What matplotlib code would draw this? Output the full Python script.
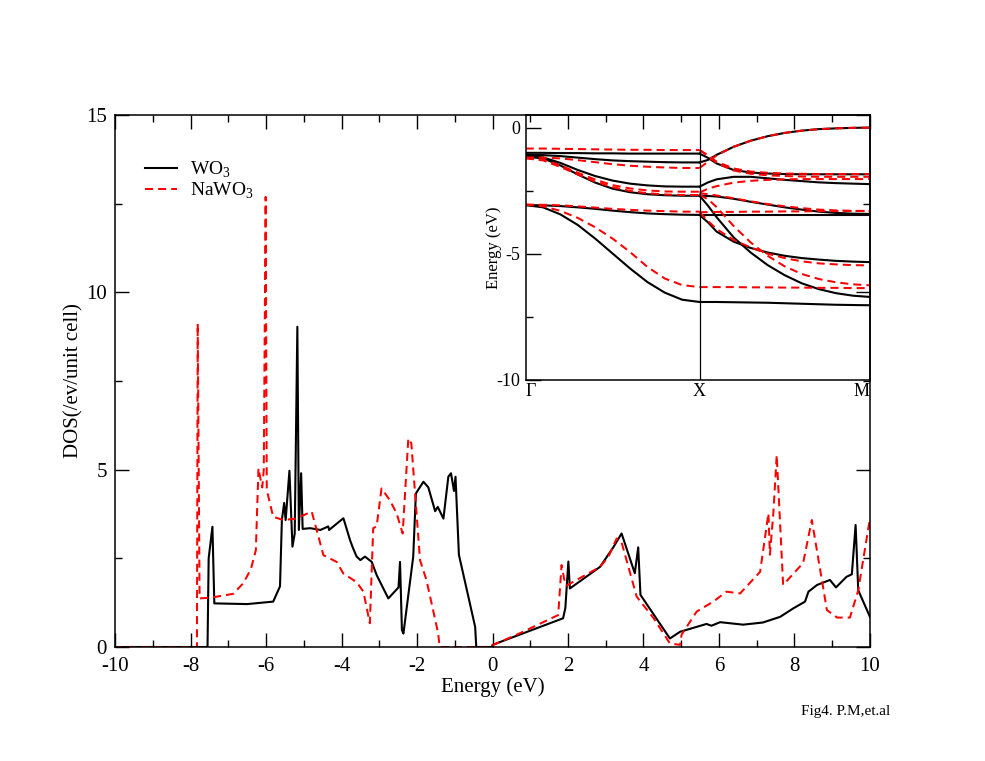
import numpy as np
import matplotlib
matplotlib.use("Agg")
import matplotlib.pyplot as plt
from matplotlib.ticker import MultipleLocator

plt.rcParams['font.family'] = ['Liberation Serif', 'DejaVu Serif']
plt.rcParams['mathtext.fontset'] = 'custom'
plt.rcParams['mathtext.rm'] = 'Liberation Serif'
plt.rcParams['axes.unicode_minus'] = False

# ---- DOS data ----
wo3_e = [-10, -7.55, -7.52, -7.42, -7.37, -6.5, -5.81, -5.63, -5.58, -5.52, -5.48,
         -5.38, -5.30, -5.24, -5.17, -5.13, -5.07, -5.03, -4.83, -4.56, -4.35, -4.33,
         -3.95, -3.77, -3.70, -3.60, -3.50, -3.38, -3.20, -3.07, -2.76, -2.49, -2.45,
         -2.40, -2.36, -2.10, -2.03, -1.83, -1.70, -1.52, -1.45, -1.30, -1.17, -1.10,
         -1.02, -0.98, -0.89, -0.46, -0.43, -0.02,
         0.0, 1.87, 1.93, 2.01, 2.05, 2.85, 3.20, 3.42, 3.77, 3.86, 3.92, 4.70, 4.97,
         5.67, 5.80, 6.03, 6.64, 7.16, 7.62, 7.97, 8.28, 8.37, 8.60, 8.94, 9.10, 9.38,
         9.52, 9.62, 9.69, 10.0]
wo3_dos = [0, 0, 2.5, 3.39, 1.23, 1.21, 1.28, 1.71, 3.58, 4.06, 3.58,
           4.97, 2.83, 3.2, 9.03, 3.3, 4.9, 3.33, 3.35, 3.3, 3.4, 3.3,
           3.63, 3.0, 2.8, 2.55, 2.45, 2.55, 2.4, 2.03, 1.37, 1.68, 2.4,
           0.48, 0.38, 2.55, 4.33, 4.66, 4.5, 3.83, 3.95, 3.62, 4.8, 4.9,
           4.4, 4.8, 2.6, 0.57, 0, 0,
           0.06, 0.81, 1.1, 2.41, 1.65, 2.26, 2.81, 3.2, 2.08, 2.81, 1.47, 0.24, 0.43,
           0.65, 0.6, 0.7, 0.63, 0.69, 0.85, 1.09, 1.28, 1.56, 1.75, 1.89, 1.68, 1.98,
           2.05, 3.44, 1.6, 0.85]

nawo3_e = [-10, -7.83, -7.81, -7.76, -7.47, -6.87, -6.6, -6.4, -6.27, -6.20, -6.14,
           -6.10, -6.06, -6.01, -5.98, -5.81, -5.54, -5.2, -4.79, -4.48, -4.13, -3.95,
           -3.60, -3.42, -3.25, -3.16, -3.07, -2.94, -2.72, -2.54, -2.38, -2.23, -2.15,
           -1.92, -1.75, -1.44, -1.40, -0.02,
           0.0, 0.73, 1.74, 1.83, 1.90, 1.96, 2.85, 3.07, 3.29, 3.42, 3.82, 4.27, 4.70,
           4.97, 5.01, 5.41, 5.85, 6.20, 6.56, 7.09, 7.31, 7.35, 7.44, 7.53, 7.70, 8.23,
           8.46, 8.86, 9.13, 9.47, 9.69, 10.0]
nawo3_dos = [0, 0, 9.12, 1.37, 1.39, 1.5, 1.8, 2.2, 2.73, 5.04, 4.7,
             4.5, 5.0, 12.69, 4.43, 3.67, 3.58, 3.62, 3.82, 2.59, 2.4, 2.07,
             1.83, 1.56, 0.67, 3.35, 3.4, 4.47, 4.14, 3.77, 3.2, 5.88, 5.74,
             2.45, 1.89, 0.39, 0, 0,
             0.05, 0.39, 0.9, 2.31, 1.91, 1.73, 2.26, 2.54, 3.06, 2.95, 1.42, 0.81, 0.1,
             0.06, 0.35, 1.0, 1.28, 1.56, 1.51, 2.12, 3.77, 2.6, 3.77, 5.41, 1.75, 2.37,
             3.58, 1.04, 0.83, 0.83, 1.6, 3.63]

# ---- band structure (inset) ----
k_gx = [0.0, 0.1, 0.2, 0.3, 0.4, 0.5, 0.6, 0.7, 0.8, 0.9, 1.0]
k_xm = [1.0, 1.049, 1.098, 1.196, 1.294, 1.392, 1.49, 1.588, 1.686, 1.784, 1.882, 1.98]
k_ticks = [0.0, 1.0, 1.98]
k_labels = ['Γ', 'X', 'M']

wo3_gx = [
    [-1.00, -1.00, -1.01, -1.01, -1.02, -1.02, -1.03, -1.03, -1.03, -1.03, -1.03],
    [-1.08, -1.09, -1.13, -1.19, -1.25, -1.30, -1.33, -1.35, -1.37, -1.38, -1.38],
    [-1.12, -1.18, -1.40, -1.68, -1.92, -2.10, -2.22, -2.29, -2.33, -2.34, -2.34],
    [-1.15, -1.22, -1.50, -1.86, -2.18, -2.42, -2.56, -2.64, -2.68, -2.70, -2.70],
    [-3.07, -3.08, -3.11, -3.16, -3.22, -3.29, -3.35, -3.40, -3.43, -3.45, -3.46],
    [-3.07, -3.16, -3.44, -3.86, -4.40, -4.99, -5.58, -6.12, -6.54, -6.82, -6.91],
]
wo3_xm = [
    [-1.38, -1.28, -1.08, -0.76, -0.52, -0.34, -0.21, -0.12, -0.06, -0.03, -0.01, 0.0],
    [-1.03, -1.20, -1.42, -1.68, -1.78, -1.82, -1.84, -1.85, -1.85, -1.85, -1.85, -1.85],
    [-2.34, -2.17, -2.05, -1.95, -1.95, -2.01, -2.07, -2.12, -2.17, -2.20, -2.22, -2.24],
    [-2.70, -2.71, -2.73, -2.82, -2.94, -3.05, -3.16, -3.25, -3.33, -3.38, -3.41, -3.42],
    [-3.46, -3.46, -3.46, -3.46, -3.46, -3.46, -3.46, -3.46, -3.46, -3.46, -3.46, -3.46],
    [-2.70, -3.10, -3.55, -4.35, -4.95, -5.45, -5.85, -6.17, -6.40, -6.56, -6.66, -6.71],
    [-3.46, -3.76, -4.12, -4.52, -4.77, -4.95, -5.08, -5.17, -5.23, -5.28, -5.31, -5.33],
    [-6.91, -6.91, -6.91, -6.92, -6.93, -6.94, -6.96, -6.98, -7.00, -7.02, -7.03, -7.04],
]
nawo3_gx = [
    [-0.83, -0.83, -0.84, -0.85, -0.86, -0.87, -0.88, -0.88, -0.89, -0.89, -0.89],
    [-1.18, -1.19, -1.22, -1.29, -1.37, -1.45, -1.51, -1.55, -1.58, -1.60, -1.60],
    [-1.20, -1.27, -1.50, -1.79, -2.06, -2.28, -2.41, -2.49, -2.53, -2.54, -2.54],
    [-1.22, -1.30, -1.56, -1.86, -2.14, -2.36, -2.51, -2.60, -2.65, -2.67, -2.67],
    [-3.05, -3.06, -3.08, -3.12, -3.17, -3.22, -3.26, -3.29, -3.31, -3.33, -3.33],
    [-3.05, -3.12, -3.30, -3.58, -3.95, -4.40, -4.93, -5.52, -5.98, -6.24, -6.32],
]
nawo3_xm = [
    [-1.60, -1.35, -1.10, -0.76, -0.52, -0.34, -0.21, -0.12, -0.06, -0.03, -0.01, 0.0],
    [-0.89, -1.10, -1.35, -1.62, -1.74, -1.79, -1.82, -1.83, -1.84, -1.84, -1.84, -1.84],
    [-0.89, -1.12, -1.40, -1.70, -1.83, -1.89, -1.92, -1.94, -1.95, -1.95, -1.95, -1.95],
    [-2.57, -2.42, -2.32, -2.18, -2.11, -2.07, -2.05, -2.04, -2.04, -2.04, -2.04, -2.04],
    [-2.60, -2.64, -2.69, -2.80, -2.92, -3.03, -3.12, -3.19, -3.25, -3.28, -3.30, -3.31],
    [-3.35, -3.35, -3.34, -3.34, -3.33, -3.33, -3.32, -3.32, -3.31, -3.31, -3.30, -3.30],
    [-2.67, -2.84, -3.15, -3.90, -4.55, -5.08, -5.50, -5.80, -6.00, -6.13, -6.21, -6.25],
    [-3.35, -3.70, -4.02, -4.45, -4.75, -5.00, -5.17, -5.30, -5.38, -5.42, -5.45, -5.46],
    [-6.32, -6.32, -6.32, -6.32, -6.33, -6.33, -6.34, -6.34, -6.35, -6.35, -6.36, -6.36],
]

black_style = dict(color='black', lw=1.5)
red_style = dict(color='red', lw=1.45, linestyle=(0, (4, 2.5)))

fig = plt.figure(figsize=(9.85, 7.61), dpi=100)

# main DOS panel
ax = fig.add_axes([0.1168, 0.1498, 0.7664, 0.6991])
ax.plot(wo3_e, wo3_dos, label='WO$_\\mathrm{3}$', **black_style)
ax.plot(nawo3_e, nawo3_dos, label='NaWO$_\\mathrm{3}$', **red_style)
ax.set_xlim(-10, 10)
ax.set_ylim(0, 15)
ax.xaxis.set_major_locator(MultipleLocator(2))
ax.xaxis.set_minor_locator(MultipleLocator(1))
ax.yaxis.set_major_locator(MultipleLocator(5))
ax.yaxis.set_minor_locator(MultipleLocator(2.5))
ax.tick_params(which='both', direction='in', top=True, right=True, labelsize=15, width=1)
ax.tick_params(which='major', length=10, pad=6)
ax.tick_params(axis='x', which='major', pad=7)
ax.tick_params(which='minor', length=5)
for s in ax.spines.values():
    s.set_linewidth(1.1)
ax.set_xlabel('Energy (eV)', fontsize=15, labelpad=1)
ax.set_ylabel('DOS(/ev/unit cell)', fontsize=15, labelpad=2)
ax.legend(loc='upper left', bbox_to_anchor=(0.04, 0.916), frameon=False, fontsize=14,
          handlelength=1.65, handletextpad=0.65, labelspacing=0.05,
          borderpad=0, borderaxespad=0)

fig.text(0.904, 0.065, 'Fig4. P.M,et.al', fontsize=11, ha='right', va='center')

# inset band structure
ins = fig.add_axes([0.5337, 0.5007, 0.3495, 0.3482])
ins.patch.set_alpha(0)
for band in wo3_gx:
    ins.plot(k_gx, band, **black_style)
for band in wo3_xm:
    ins.plot(k_xm, band, **black_style)
for band in nawo3_gx:
    ins.plot(k_gx, band, **red_style)
for band in nawo3_xm:
    ins.plot(k_xm, band, **red_style)
ins.axvline(k_ticks[1], color='black', lw=0.9)
ins.set_xlim(k_ticks[0], k_ticks[-1])
ins.set_ylim(-10, 0.5)
ins.yaxis.set_major_locator(MultipleLocator(5))
ins.yaxis.set_minor_locator(MultipleLocator(2.5))
ins.set_yticks([0, -5, -10])
ins.set_xticks(k_ticks)
ins.set_xticklabels(k_labels)
for lbl, ha in zip(ins.get_xticklabels(), ['left', 'center', 'right']):
    lbl.set_ha(ha)
ins.tick_params(axis='x', length=0, pad=2, labelsize=13)
ins.tick_params(axis='y', which='both', direction='in', labelsize=13, width=1)
ins.tick_params(axis='y', which='major', length=11, pad=4)
ins.tick_params(axis='y', which='minor', length=5)
for s in ins.spines.values():
    s.set_linewidth(1.1)
ins.set_ylabel('Energy (eV)', fontsize=12)
ins.yaxis.set_label_coords(-0.069, 0.5)

fig.savefig('out.png', dpi=100)
